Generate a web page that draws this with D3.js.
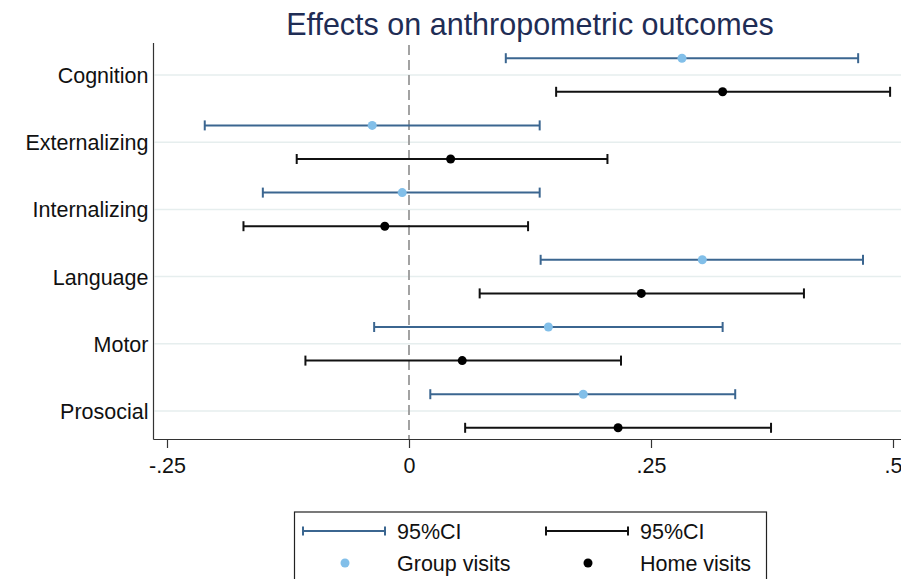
<!DOCTYPE html>
<html>
<head>
<meta charset="utf-8">
<script src="https://cdn.jsdelivr.net/npm/d3@7"></script>
<style>
  html, body { margin: 0; padding: 0; background: #fff; }
  svg { display: block; font-family: "Liberation Sans", Arial, sans-serif; }
</style>
</head>
<body>
<svg id="chart" width="901" height="579"></svg>
<script>
// Outcome categories, top to bottom
const outcomes = ["Cognition", "Externalizing", "Internalizing", "Language", "Motor", "Prosocial"];

// Group visits: point estimate and 95% CI bounds
const groupEst = [0.282, -0.038, -0.007, 0.303, 0.144, 0.180];
const groupLo  = [0.100, -0.211, -0.151, 0.136, -0.036, 0.022];
const groupHi  = [0.464, 0.135, 0.135, 0.469, 0.324, 0.337];

// Home visits: point estimate and 95% CI bounds
const homeEst = [0.324, 0.043, -0.025, 0.240, 0.055, 0.216];
const homeLo  = [0.152, -0.116, -0.171, 0.073, -0.107, 0.058];
const homeHi  = [0.497, 0.205, 0.123, 0.408, 0.219, 0.374];

const xTicks = [-0.25, 0, 0.25, 0.5];
const xTickLabels = ["-.25", "0", ".25", ".5"];

const series = [
  { name: "Group visits", est: groupEst, lo: groupLo, hi: groupHi, offset: -0.25, line: "#3b6690", dot: "#82bfe9" },
  { name: "Home visits",  est: homeEst,  lo: homeLo,  hi: homeHi,  offset: 0.25,  line: "#111111", dot: "#000000" }
];

const svg = d3.select("#chart");
const plotLeft = 153.5, plotRight = 901, plotTop = 43, plotBottom = 439.5;
const fs = 21.5;

const x = d3.scaleLinear().domain([-0.25, 0.5]).range([167, 893]);
// categories sit at integer positions
const y = d3.scaleLinear().domain([0, outcomes.length - 1]).range([75, 411]);

// Title
svg.append("text")
  .attr("x", 530).attr("y", 35)
  .attr("text-anchor", "middle")
  .attr("font-size", 30.5)
  .attr("fill", "#1f2d55")
  .text("Effects on anthropometric outcomes");

// Light gridlines at each category
svg.append("g").selectAll("line").data(outcomes).join("line")
  .attr("x1", plotLeft + 1).attr("x2", plotRight)
  .attr("y1", (d, i) => y(i)).attr("y2", (d, i) => y(i))
  .attr("stroke", "#e6eeee").attr("stroke-width", 1.5);

// Zero reference line
svg.append("line")
  .attr("x1", x(0)).attr("x2", x(0))
  .attr("y1", plotTop + 2).attr("y2", plotBottom)
  .attr("stroke", "#999").attr("stroke-width", 1.8)
  .attr("stroke-dasharray", "10,5");

// Y axis
const yAxis = d3.axisLeft(y)
  .tickValues(d3.range(outcomes.length))
  .tickFormat(i => outcomes[i])
  .tickSize(0).tickPadding(5);
const gy = svg.append("g").attr("transform", `translate(${plotLeft},0)`).call(yAxis);
gy.select(".domain").attr("stroke", "#333").attr("stroke-width", 1.2).attr("d", `M0,${plotTop}V${plotBottom}`);
gy.selectAll("text").attr("font-size", fs).attr("fill", "#111").attr("dy", "0.35em")
  .attr("font-family", "Liberation Sans, Arial, sans-serif");

// X axis
const xAxis = d3.axisBottom(x)
  .tickValues(xTicks)
  .tickFormat((d, i) => xTickLabels[i])
  .tickSize(8.5).tickPadding(9.5);
const gx = svg.append("g").attr("transform", `translate(0,${plotBottom})`).call(xAxis);
gx.select(".domain").attr("stroke", "#333").attr("stroke-width", 1.2).attr("d", `M${plotLeft},0H${plotRight}`);
gx.selectAll(".tick line").attr("stroke", "#333").attr("stroke-width", 1.2);
gx.selectAll("text").attr("font-size", fs).attr("fill", "#111")
  .attr("font-family", "Liberation Sans, Arial, sans-serif");

// Confidence intervals and point estimates
const capH = 5;
series.forEach(s => {
  const g = svg.append("g");
  outcomes.forEach((o, i) => {
    const yy = y(i + s.offset);
    g.append("line").attr("x1", x(s.lo[i])).attr("x2", x(s.hi[i]))
      .attr("y1", yy).attr("y2", yy).attr("stroke", s.line).attr("stroke-width", 2);
    [s.lo[i], s.hi[i]].forEach(v => {
      g.append("line").attr("x1", x(v)).attr("x2", x(v))
        .attr("y1", yy - capH).attr("y2", yy + capH)
        .attr("stroke", s.line).attr("stroke-width", 2);
    });
    g.append("circle").attr("cx", x(s.est[i])).attr("cy", yy).attr("r", 4.5).attr("fill", s.dot);
  });
});

// Legend
const lg = svg.append("g");
lg.append("rect").attr("x", 294.5).attr("y", 512).attr("width", 472).attr("height", 80)
  .attr("fill", "#fff").attr("stroke", "#222").attr("stroke-width", 1.2);
const legendCols = [303, 546];
series.forEach((s, k) => {
  const x0 = legendCols[k], y1 = 531, y2 = 563;
  lg.append("line").attr("x1", x0).attr("x2", x0 + 82).attr("y1", y1).attr("y2", y1)
    .attr("stroke", s.line).attr("stroke-width", 2);
  [x0, x0 + 82].forEach(xx => lg.append("line").attr("x1", xx).attr("x2", xx)
    .attr("y1", y1 - 4.5).attr("y2", y1 + 4.5).attr("stroke", s.line).attr("stroke-width", 2));
  lg.append("text").attr("x", x0 + 94).attr("y", y1).attr("dy", "0.35em")
    .attr("font-size", fs).attr("fill", "#111").text("95%CI");
  lg.append("circle").attr("cx", x0 + 42).attr("cy", y2).attr("r", 4.5).attr("fill", s.dot);
  lg.append("text").attr("x", x0 + 94).attr("y", y2).attr("dy", "0.35em")
    .attr("font-size", fs).attr("fill", "#111").text(s.name);
});
</script>
</body>
</html>
